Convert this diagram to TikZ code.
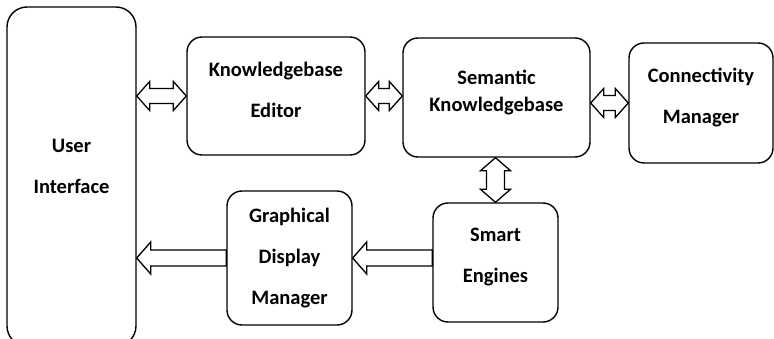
\documentclass[tikz,border=0pt]{standalone}
\usepackage{fontspec}
\setmainfont{Carlito}
\usetikzlibrary{calc}

\newcommand\dblharrow[2]{%
  \draw[hollow] let \p1=#1, \p2=#2 in
    (\x1,\y1) -- (\x1+13pt,\y1+14.5pt) -- (\x1+13pt,\y1+7.5pt) -- (\x2-13pt,\y1+7.5pt)
    -- (\x2-13pt,\y1+14.5pt) -- (\x2,\y1) -- (\x2-13pt,\y1-14.5pt) -- (\x2-13pt,\y1-7.5pt)
    -- (\x1+13pt,\y1-7.5pt) -- (\x1+13pt,\y1-14.5pt) -- cycle;}
\newcommand\dblvarrow[2]{%
  \draw[hollow] let \p1=#1, \p2=#2 in
    (\x1,\y1) -- (\x1+15pt,\y1-13pt) -- (\x1+9pt,\y1-13pt) -- (\x1+9pt,\y2+13pt)
    -- (\x1+15pt,\y2+13pt) -- (\x1,\y2) -- (\x1-15pt,\y2+13pt) -- (\x1-9pt,\y2+13pt)
    -- (\x1-9pt,\y1-13pt) -- (\x1-15pt,\y1-13pt) -- cycle;}
\newcommand\leftarrowblk[2]{%
  \draw[hollow] let \p1=#1, \p2=#2 in
    (\x2,\y1) -- (\x2+14pt,\y1+16pt) -- (\x2+14pt,\y1+8pt) -- (\x1,\y1+8pt)
    -- (\x1,\y1-8pt) -- (\x2+14pt,\y1-8pt) -- (\x2+14pt,\y1-16pt) -- cycle;}

\begin{document}
\begin{tikzpicture}[x=1pt,y=-1pt,
    block/.style={draw,line width=1.4pt,rounded corners=15pt,inner sep=0pt,align=center,
      font=\fontsize{20.5}{41}\selectfont\bfseries},
    hollow/.style={draw,line width=1.3pt,fill=white,line join=miter}]
        \clip (0,0) rectangle (774,339);
        % boxes
        \node[block,rounded corners=20pt,minimum width=129pt,minimum height=339pt,text depth=20pt]
            (ui) at (71.5,176.5) {User\\Interface};
        \node[block,minimum width=178pt,minimum height=118pt,text depth=12pt]
            (ke) at (276,96) {Knowledgebase\\Editor};
        \node[block,minimum width=187pt,minimum height=119pt,text depth=13pt,
            font=\fontsize{20.5}{27}\selectfont\bfseries]
            (sk) at (496.5,97.5) {Semantic\\Knowledgebase};
        \node[block,minimum width=144pt,minimum height=120pt,text depth=15pt]
            (cm) at (701,103) {Connectivity\\Manager};
        \node[block,minimum width=125pt,minimum height=119pt,text depth=14pt]
            (se) at (495.5,262.5) {Smart\\Engines};
        \node[block,minimum width=125pt,minimum height=134pt]
            (gdm) at (289.5,258) {Graphical\\Display\\Manager};
        % arrows
        \dblharrow{(ui.east |- ke.west)}{(ke.west)}
        \dblharrow{(ke.east)}{(ke.east -| sk.west)}
        \dblharrow{(sk.east |- cm.west)}{(cm.west)}
        \dblvarrow{(se.north |- sk.south)}{(se.north)}
        \leftarrowblk{(gdm.east -| se.west)}{(gdm.east)}
        \leftarrowblk{(gdm.west)}{(gdm.west -| ui.east)}
    \end{tikzpicture}
\end{document}
